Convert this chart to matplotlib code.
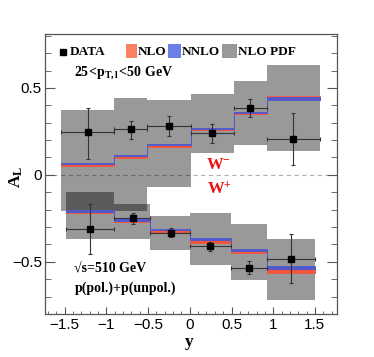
import numpy as np
import matplotlib
matplotlib.use("Agg")
import matplotlib.pyplot as plt
from matplotlib.patches import Rectangle

plt.rcParams["mathtext.fontset"] = "custom"
plt.rcParams["mathtext.rm"] = "Liberation Serif:bold"
plt.rcParams["mathtext.bf"] = "Liberation Serif:bold"
plt.rcParams["mathtext.it"] = "Liberation Serif:bold"

# --- W- (upper) ---
wm_edges = [-1.55, -0.91, -0.51, 0.01, 0.53, 0.92, 1.565]
wm_x = [-1.225, -0.71, -0.255, 0.272, 0.727, 1.242]
wm_y = [0.244, 0.261, 0.282, 0.240, 0.383, 0.205]
wm_ylo = [0.094, 0.207, 0.222, 0.182, 0.330, 0.056]
wm_yhi = [0.387, 0.309, 0.337, 0.295, 0.437, 0.353]
wm_pdf_lo = [-0.21, -0.21, -0.072, 0.123, 0.171, 0.138]
wm_pdf_hi = [0.372, 0.443, 0.433, 0.464, 0.539, 0.630]
wm_nlo = [0.057, 0.103, 0.167, 0.262, 0.356, 0.441]
wm_nlo_w = [0.004, 0.004, 0.004, 0.004, 0.008, 0.013]
wm_nnlo = [0.063, 0.110, 0.174, 0.268, 0.358, 0.440]
wm_nnlo_w = [0.003, 0.003, 0.003, 0.004, 0.005, 0.007]

# --- W+ (lower) ---
wp_edges = [-1.485, -0.91, -0.479, 0.008, 0.491, 0.926, 1.505]
wp_x = [-1.198, -0.686, -0.231, 0.248, 0.707, 1.21]
wp_y = [-0.310, -0.249, -0.333, -0.410, -0.536, -0.483]
wp_ylo = [-0.456, -0.283, -0.360, -0.440, -0.572, -0.624]
wp_yhi = [-0.165, -0.218, -0.308, -0.385, -0.498, -0.339]
wp_pdf_lo = [-0.366, -0.366, -0.433, -0.519, -0.605, -0.72]
wp_pdf_hi = [-0.101, -0.168, -0.237, -0.22, -0.285, -0.371]
wp_nlo = [-0.216, -0.268, -0.323, -0.383, -0.442, -0.553]
wp_nlo_w = [0.004, 0.004, 0.004, 0.006, 0.006, 0.011]
wp_nnlo = [-0.208, -0.259, -0.314, -0.371, -0.430, -0.534]
wp_nnlo_w = [0.004, 0.004, 0.004, 0.006, 0.005, 0.009]

nlo_col = "#f0553a"
nnlo_col = "#4f58d0"
serif = "Liberation Serif"


def step(vals):
    v = np.asarray(vals, dtype=float)
    return np.append(v, v[-1])


def draw_set(ax, edges, x, y, ylo, yhi, plo, phi, nlo, nlo_w, nnlo, nnlo_w):
    ax.fill_between(edges, step(plo), step(phi), step="post",
                    color="k", alpha=0.4, lw=0, zorder=1)
    c = np.array(nlo); w = np.array(nlo_w)
    ax.fill_between(edges, step(c - w), step(c + w), step="post",
                    facecolor=nlo_col, edgecolor=nlo_col, lw=0.6, zorder=2)
    c = np.array(nnlo); w = np.array(nnlo_w)
    ax.fill_between(edges, step(c - w), step(c + w), step="post",
                    facecolor=nnlo_col, edgecolor=nnlo_col, lw=0.6, zorder=3)
    x = np.array(x); y = np.array(y)
    e = np.array(edges)
    xerr = [x - e[:-1], e[1:] - x]
    yerr = [y - np.array(ylo), np.array(yhi) - y]
    ax.errorbar(x, y, xerr=xerr, yerr=yerr, fmt="s", color="k",
                ecolor="#333333", elinewidth=0.8, capsize=1.5, capthick=0.8,
                markersize=5, zorder=5)


fig = plt.figure(figsize=(3.74, 3.57), dpi=100)
ax = fig.add_axes([0.1195, 0.1204, 0.7805, 0.7844])

draw_set(ax, wm_edges, wm_x, wm_y, wm_ylo, wm_yhi, wm_pdf_lo, wm_pdf_hi,
         wm_nlo, wm_nlo_w, wm_nnlo, wm_nnlo_w)
draw_set(ax, wp_edges, wp_x, wp_y, wp_ylo, wp_yhi, wp_pdf_lo, wp_pdf_hi,
         wp_nlo, wp_nlo_w, wp_nnlo, wp_nnlo_w)

ax.axhline(0, color="#b0b0b0", lw=0.8, ls=(0, (4, 3)), zorder=0.5)

ax.set_xlim(-1.74, 1.76)
ax.set_ylim(-0.80, 0.81)
ax.set_xticks([-1.5, -1, -0.5, 0, 0.5, 1, 1.5])
ax.set_xticklabels(["\u22121.5", "\u22121", "\u22120.5", "0", "0.5", "1", "1.5"])
ax.set_yticks([-0.5, 0, 0.5])
ax.set_yticklabels(["\u22120.5", "0", "0.5"])
ax.set_xticks(np.arange(-1.7, 1.75, 0.1), minor=True)
ax.set_yticks(np.arange(-0.8, 0.81, 0.1), minor=True)
ax.tick_params(axis="both", which="both", direction="in", color="#555555",
               labelsize=11, labelfontfamily="Liberation Sans", right=True, top=False)
ax.tick_params(axis="y", which="major", length=7, pad=2)
ax.tick_params(axis="y", which="minor", length=4)
ax.tick_params(axis="x", which="major", length=5, pad=3)
ax.tick_params(axis="x", which="minor", length=2.5)
for s in ax.spines.values():
    s.set_color("#555555")
    s.set_linewidth(0.9)

# legend drawn by hand
tx = dict(transform=ax.transAxes, fontfamily=serif, fontweight="bold",
          fontsize=9.5, va="center", ha="left")
ly = 0.937
ax.plot([0.064], [ly], "s", color="k", markersize=4, transform=ax.transAxes,
        clip_on=False)
ax.text(0.086, ly, "DATA", **tx)
ax.add_patch(Rectangle((0.278, 0.913), 0.037, 0.05, transform=ax.transAxes,
                       color="#fa8064", lw=0))
ax.text(0.318, ly, "NLO", **tx)
ax.add_patch(Rectangle((0.423, 0.913), 0.043, 0.05, transform=ax.transAxes,
                       color="#6a80e6", lw=0))
ax.text(0.468, ly, "NNLO", **tx)
ax.add_patch(Rectangle((0.607, 0.913), 0.051, 0.05, transform=ax.transAxes,
                       color="#999999", lw=0))
ax.text(0.661, ly, "NLO PDF", **tx)

ax.text(0.100, 0.861, r"$25\!<\!p_{\mathrm{T,l}}\!<\!50\ \mathrm{GeV}$",
        transform=ax.transAxes, fontsize=10, va="center", ha="left")
ax.text(0.595, 0.535, r"$\mathrm{W}^{\mathbf{-}}$", transform=ax.transAxes,
        color="#ee1111", fontsize=12, ha="center", va="center")
ax.text(0.600, 0.445, r"$\mathrm{W}^{+}$", transform=ax.transAxes,
        color="#ee1111", fontsize=12, ha="center", va="center")
ax.text(0.102, 0.160, "\u221as=510 GeV", transform=ax.transAxes,
        fontfamily=serif, fontweight="bold", fontsize=10, va="center", ha="left")
ax.text(0.102, 0.092, "p(pol.)+p(unpol.)", transform=ax.transAxes,
        fontfamily=serif, fontweight="bold", fontsize=10, va="center", ha="left")

fig.text(0.042, 0.505, r"$\mathrm{A_L}$", rotation=90, fontsize=12.5,
         ha="center", va="center")
fig.text(0.505, 0.043, "y", fontfamily=serif, fontweight="bold", fontsize=12.5,
         ha="center", va="center")

fig.savefig("out.png", dpi=100)
